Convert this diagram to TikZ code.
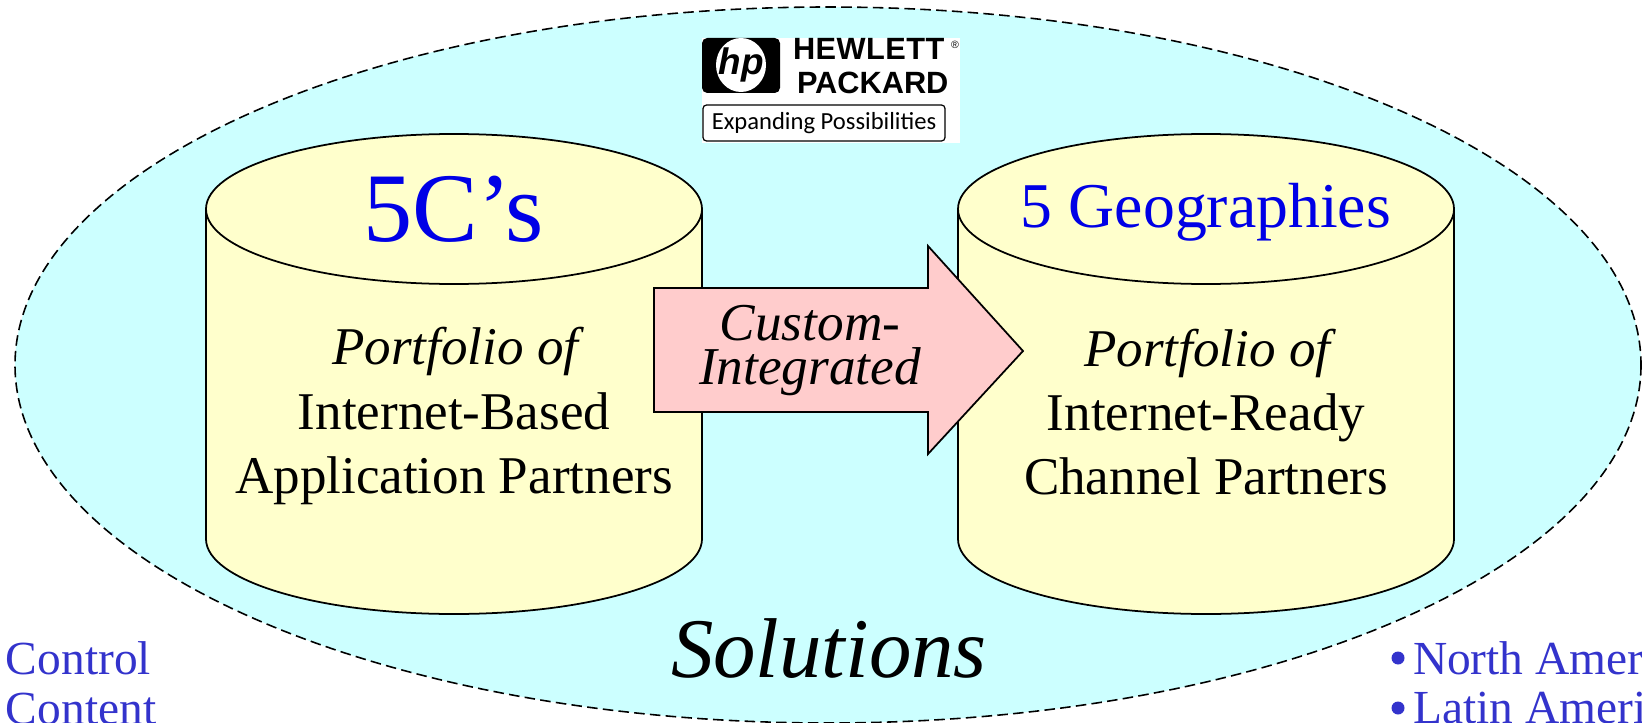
\documentclass[tikz,border=0pt]{standalone}
\usepackage{fontspec}
\setmainfont{Liberation Serif}
\newfontfamily\logosans{Liberation Sans}
\newfontfamily\logonarrow{Carlito}
\definecolor{skyfill}{HTML}{CCFFFF}
\definecolor{creamfill}{HTML}{FFFFCC}
\definecolor{pinkfill}{HTML}{FFCCCC}
\definecolor{listblue}{HTML}{3333CC}
\definecolor{headblue}{HTML}{0000E6}
\begin{document}
\begin{tikzpicture}[x=0.02cm,y=-0.02cm,line width=1pt]
	\useasboundingbox (0,0) rectangle (1642,723);
	\clip (0,0) rectangle (1642,723);
	\tikzstyle{every node}=[inner sep=0pt,outer sep=0pt];
	\tikzstyle{partners}=[align=center,font=\fontsize{30.2}{36.5}\selectfont];
	\tikzstyle{listitem}=[anchor=base west,text=listblue,font=\fontsize{27}{27}\selectfont];
	\tikzstyle{listdot}=[circle,fill=listblue,minimum size=13*0.569pt];
	\filldraw[fill=skyfill,dash pattern=on 6pt off 3pt,line width=0.9pt] (828,365) ellipse [x radius=813,y radius=358];
	\filldraw[fill=creamfill] (206,209) -- (206,539) arc [start angle=180,end angle=0,x radius=248,y radius=75] -- (702,209) arc [start angle=0,end angle=-180,x radius=248,y radius=75] -- cycle;
	\draw (206,209) arc [start angle=180,end angle=0,x radius=248,y radius=75];
	\filldraw[fill=creamfill] (958,209) -- (958,539) arc [start angle=180,end angle=0,x radius=248,y radius=75] -- (1454,209) arc [start angle=0,end angle=-180,x radius=248,y radius=75] -- cycle;
	\draw (958,209) arc [start angle=180,end angle=0,x radius=248,y radius=75];
	\filldraw[fill=pinkfill] (654,288) -- (928,288) -- (928,246) -- (1023,351) -- (928,454) -- (928,412) -- (654,412) -- cycle;
	\fill[white] (702,38) rectangle (960,143);
	\fill[black,rounded corners=3pt] (702,38) rectangle (780,93);
	\fill[white] (741,65) ellipse [x radius=25,y radius=27];
	\draw[rounded corners=2pt,line width=0.7pt] (703,105) rectangle (945,141);
	\path (741,65) node (hplogo) {\logosans\bfseries\itshape\fontsize{21}{21}\selectfont hp};
	\path (793,60) node[anchor=base west] (hewlett) {\logosans\bfseries\fontsize{17.5}{17.5}\addfontfeature{LetterSpace=1.5}\selectfont HEWLETT};
	\path (955,45) node (regmark) {\logosans\fontsize{6}{6}\selectfont ®};
	\path (797,93) node[anchor=base west] (packard) {\logosans\bfseries\fontsize{17.5}{17.5}\selectfont PACKARD};
	\path (824,123) node (slogan) {\logonarrow\fontsize{14}{14}\selectfont Expanding Possibilities};
	\path (454,209) node[text=headblue] (fivec) {\fontsize{56}{56}\selectfont 5C’s};
	\path (1206,212) node[text=headblue] (fivegeo) {\fontsize{36.3}{36.3}\selectfont 5 Geographies};
	\path (454,416) node[partners] (apps) {\hspace*{5pt}\textit{Portfolio of}\\Internet-Based\\Application Partners};
	\path (1206,412) node[partners] (channels) {\hspace*{5pt}\textit{Portfolio of}\\Internet-Ready\\Channel Partners};
	\path (810,351) node[align=center,font=\fontsize{30.3}{25}\selectfont\itshape] (custom) {Custom-\\Integrated};
	\path (829,677) node[anchor=base,font=\fontsize{48.3}{48.3}\selectfont\itshape] (solutions) {Solutions};
	\path (6,674) node[listitem] (control) {Control};
	\path (6,724) node[listitem] (content) {Content};
	\path (1398,658) node[listdot] (northdot) {};
	\path (1413,674) node[listitem] (north) {North America};
	\path (1398,708) node[listdot] (latindot) {};
	\path (1413,723) node[listitem] (latin) {Latin America};
\end{tikzpicture}
\end{document}
